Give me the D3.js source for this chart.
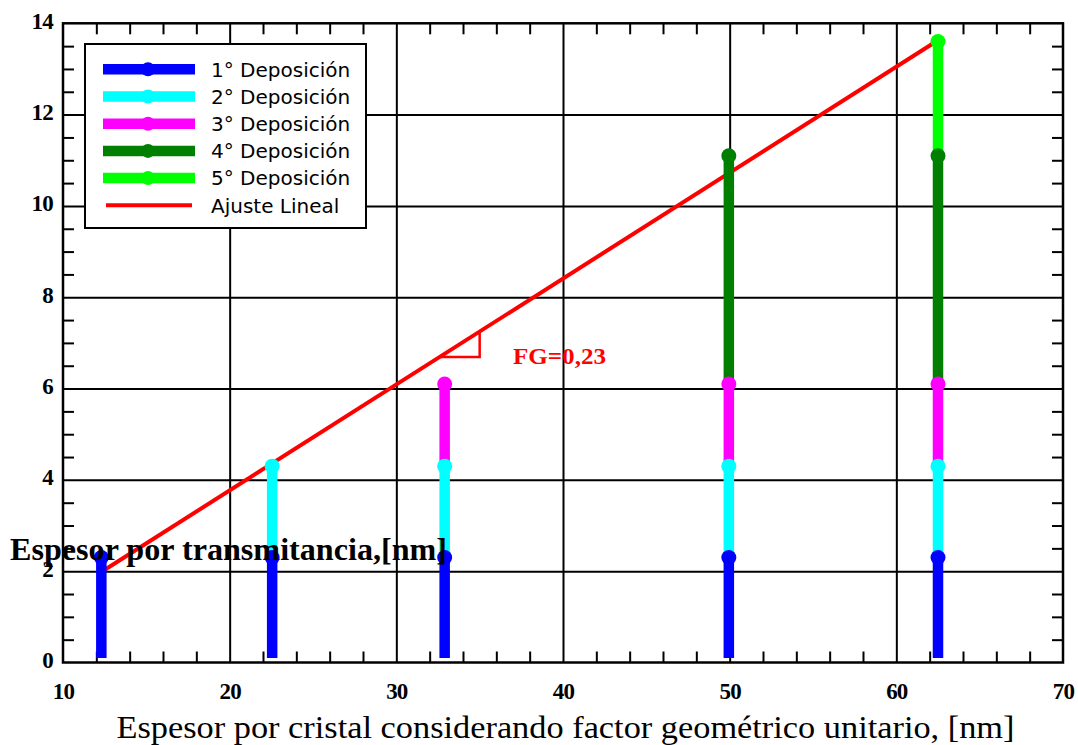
<!DOCTYPE html>
<html>
<head>
<meta charset="utf-8">
<script src="https://cdnjs.cloudflare.com/ajax/libs/d3/7.8.5/d3.min.js"></script>
<style>
  body { margin: 0; background: #fff; }
  svg { display: block; }
</style>
</head>
<body>
<div id="chart"></div>
<script>
// x positions of the measured samples
const depX = [12.3, 22.55, 32.9, 49.95, 62.5];

// top of each deposition at every sample (null = not present)
const dep1 = [2.3, 2.3, 2.3, 2.3, 2.3];
const dep2 = [null, 4.3, 4.3, 4.3, 4.3];
const dep3 = [null, null, 6.1, 6.1, 6.1];
const dep4 = [null, null, null, 11.1, 11.1];
const dep5 = [null, null, null, null, 13.6];
const baseValue = 0.1;

const seriesNames = ["1° Deposición", "2° Deposición", "3° Deposición", "4° Deposición", "5° Deposición"];
const seriesColors = ["#0000ff", "#00ffff", "#ff00ff", "#007f00", "#00ff00"];

// linear fit
const fitX = [12.2, 62.55];
const fitY = [1.96, 13.64];
const fitName = "Ajuste Lineal";
const slopeTriX = [32.6, 35.0];
const fgLabel = "FG=0,23";

// axes
const xTicks = [10, 20, 30, 40, 50, 60, 70];
const yTicks = [0, 2, 4, 6, 8, 10, 12, 14];
const xTitle = "Espesor por cristal considerando factor geométrico unitario, [nm]";
const yTitle = "Espesor por transmitancia,[nm]";

const w = 1078, h = 745;
const plotLeft = 63, plotRight = 1063, plotTop = 23.3, plotBottom = 662.5;
const serif = "'Liberation Serif', 'Times New Roman', Times, serif";

const svg = d3.select("#chart").append("svg")
  .attr("width", w)
  .attr("height", h);

const xScale = d3.scaleLinear().domain([10, 70]).range([plotLeft, plotRight]);
const yScale = d3.scaleLinear().domain([0, 14]).range([plotBottom, plotTop]);

const xMinor = d3.range(10, 70.01, 2).filter(v => v % 10 != 0);
const yMinor = d3.range(0, 14.01, 0.5).filter(v => v % 2 != 0);

// grid
svg.append("g")
  .attr("transform", "translate(0," + plotBottom + ")")
  .call(d3.axisBottom(xScale).tickValues(xTicks.slice(1, -1)).tickSize(-(plotBottom - plotTop)).tickFormat(""))
  .call(g => g.select(".domain").remove())
  .selectAll("line").attr("stroke", "#000").attr("stroke-width", 2);

svg.append("g")
  .attr("transform", "translate(" + plotLeft + ",0)")
  .call(d3.axisLeft(yScale).tickValues(yTicks.slice(1, -1)).tickSize(-(plotRight - plotLeft)).tickFormat(""))
  .call(g => g.select(".domain").remove())
  .selectAll("line").attr("stroke", "#000").attr("stroke-width", 2);

// minor ticks on all sides, pointing inward
const minorAxes = [
  [d3.axisBottom(xScale).tickValues(xMinor), "translate(0," + plotBottom + ")"],
  [d3.axisTop(xScale).tickValues(xMinor), "translate(0," + plotTop + ")"],
  [d3.axisLeft(yScale).tickValues(yMinor), "translate(" + plotLeft + ",0)"],
  [d3.axisRight(yScale).tickValues(yMinor), "translate(" + plotRight + ",0)"]
];
minorAxes.forEach(function(a) {
  svg.append("g")
    .attr("transform", a[1])
    .call(a[0].tickSize(-11).tickFormat(""))
    .call(g => g.select(".domain").remove())
    .selectAll("line").attr("stroke", "#000").attr("stroke-width", 2);
});

// frame
svg.append("rect")
  .attr("x", plotLeft)
  .attr("y", plotTop)
  .attr("width", plotRight - plotLeft)
  .attr("height", plotBottom - plotTop)
  .attr("fill", "none")
  .attr("stroke", "#000")
  .attr("stroke-width", 2.5);

// tick labels
svg.append("g")
  .attr("transform", "translate(0," + plotBottom + ")")
  .call(d3.axisBottom(xScale).tickValues(xTicks).tickSize(0).tickPadding(20))
  .call(g => g.select(".domain").remove())
  .selectAll("text")
  .attr("fill", "#000")
  .style("font-family", serif)
  .style("font-weight", "bold")
  .style("font-size", "23px")
  .style("letter-spacing", "-0.8px");

svg.append("g")
  .attr("transform", "translate(" + plotLeft + ",0)")
  .call(d3.axisLeft(yScale).tickValues(yTicks).tickSize(0).tickPadding(10))
  .call(g => g.select(".domain").remove())
  .selectAll("text")
  .attr("fill", "#000")
  .attr("dy", "0.22em")
  .style("font-family", serif)
  .style("font-weight", "bold")
  .style("font-size", "23px")
  .style("letter-spacing", "-0.8px");

// fit line
const fitFn = (x) => fitY[0] + (fitY[1] - fitY[0]) / (fitX[1] - fitX[0]) * (x - fitX[0]);

svg.append("line")
  .attr("x1", xScale(fitX[0]))
  .attr("y1", yScale(fitY[0]))
  .attr("x2", xScale(fitX[1]))
  .attr("y2", yScale(fitY[1]))
  .attr("stroke", "#ff0000")
  .attr("stroke-width", 4);

// slope triangle
const triPts = [
  [slopeTriX[0], fitFn(slopeTriX[0])],
  [slopeTriX[1], fitFn(slopeTriX[0])],
  [slopeTriX[1], fitFn(slopeTriX[1])]
];
svg.append("path")
  .attr("d", d3.line().x(d => xScale(d[0])).y(d => yScale(d[1]))(triPts))
  .attr("fill", "none")
  .attr("stroke", "#ff0000")
  .attr("stroke-width", 2.5);

svg.append("text")
  .attr("x", 513)
  .attr("y", 364)
  .attr("textLength", 93)
  .attr("lengthAdjust", "spacingAndGlyphs")
  .attr("fill", "#ff0000")
  .style("font-family", serif)
  .style("font-weight", "bold")
  .style("font-size", "24px")
  .text(fgLabel);

// stacked deposition stems: each series runs from the previous top to its own top
const allSeries = [dep1, dep2, dep3, dep4, dep5];
const segments = [];
allSeries.forEach(function(vals, s) {
  vals.forEach(function(v, i) {
    if (v == null) return;
    const y0 = s == 0 ? baseValue : allSeries[s - 1][i];
    segments.push({ s: s, x: depX[i], y0: y0, y1: v });
  });
});
// later series underneath, first series on top
segments.sort((a, b) => b.s - a.s);

const stems = svg.append("g");
segments.forEach(function(d) {
  stems.append("line")
    .attr("x1", xScale(d.x))
    .attr("x2", xScale(d.x))
    .attr("y1", yScale(d.y0))
    .attr("y2", yScale(d.y1))
    .attr("stroke", seriesColors[d.s])
    .attr("stroke-width", 10.5);
  stems.append("circle")
    .attr("cx", xScale(d.x))
    .attr("cy", yScale(d.y1))
    .attr("r", 7.5)
    .attr("fill", seriesColors[d.s]);
});

// legend
const legend = svg.append("g").attr("transform", "translate(85,44)");
legend.append("rect")
  .attr("width", 281)
  .attr("height", 184)
  .attr("fill", "#fff")
  .attr("stroke", "#000")
  .attr("stroke-width", 2);

const legendItems = seriesNames.concat([fitName]);
const rows = legend.selectAll(".legend")
  .data(legendItems)
  .enter()
  .append("g")
  .attr("class", "legend")
  .attr("transform", (d, i) => "translate(0," + (25.3 + i * 27.2) + ")");

rows.append("line")
  .attr("x1", (d, i) => i < 5 ? 18 : 21)
  .attr("x2", (d, i) => i < 5 ? 110 : 107)
  .attr("stroke", (d, i) => i < 5 ? seriesColors[i] : "#ff0000")
  .attr("stroke-width", (d, i) => i < 5 ? 10.5 : 4);

rows.filter((d, i) => i < 5).append("circle")
  .attr("cx", 63)
  .attr("r", 7)
  .attr("fill", (d, i) => seriesColors[i]);

rows.append("text")
  .attr("x", 126)
  .attr("dy", "0.36em")
  .attr("fill", "#000")
  .style("font-family", "'DejaVu Sans', Verdana, sans-serif")
  .style("font-size", "20px")
  .text(d => d);

// axis titles
svg.append("text")
  .attr("x", 116.5)
  .attr("y", 738)
  .attr("textLength", 898)
  .attr("lengthAdjust", "spacingAndGlyphs")
  .attr("fill", "#000")
  .style("font-family", serif)
  .style("font-size", "31px")
  .text(xTitle);

svg.append("text")
  .attr("x", 10)
  .attr("y", 560)
  .attr("textLength", 437)
  .attr("lengthAdjust", "spacingAndGlyphs")
  .attr("fill", "#000")
  .style("font-family", serif)
  .style("font-weight", "bold")
  .style("font-size", "32px")
  .text(yTitle);
</script>
</body>
</html>
